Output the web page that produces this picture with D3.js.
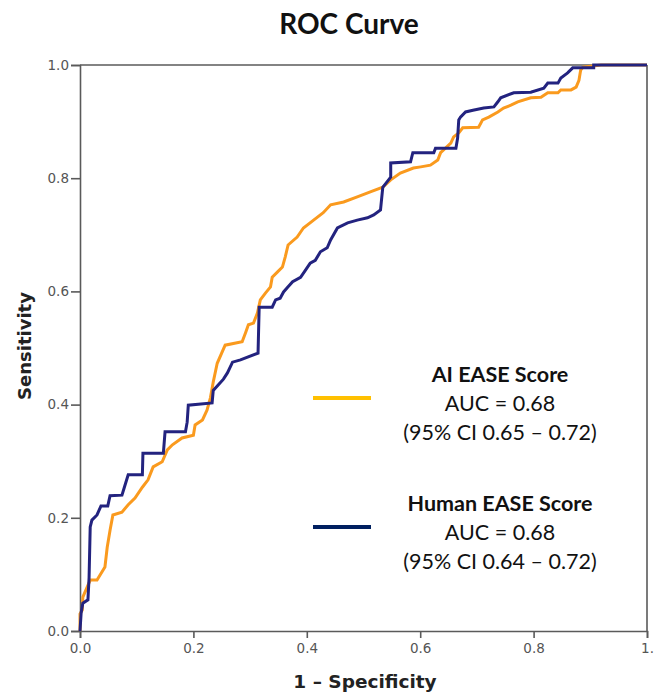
<!DOCTYPE html>
<html><head><meta charset="utf-8">
<script src="https://cdn.jsdelivr.net/npm/d3@7"></script>
<style>body{margin:0;background:#fff}svg{display:block}</style>
</head><body>
<script>
// ---- data ----
const xTicks = [0, 0.2, 0.4, 0.6, 0.8, 1.0];
const xTickLabels = ["0.0", "0.2", "0.4", "0.6", "0.8", "1."];
const yTicks = [0, 0.2, 0.4, 0.6, 0.8, 1.0];
const yTickLabels = ["0.0", "0.2", "0.4", "0.6", "0.8", "1.0"];

// AI EASE Score ROC: [1-specificity, sensitivity]
const aiFpr  = [0,0,0.004,0.005,0.018,0.030,0.044,0.048,0.053,0.058,0.074,0.085,0.097,0.110,0.120,0.129,0.145,0.154,0.163,0.180,0.200,0.203,0.216,0.224,0.230,0.235,0.242,0.256,0.286,0.292,0.297,0.306,0.313,0.318,0.327,0.336,0.339,0.348,0.357,0.362,0.367,0.383,0.394,0.412,0.429,0.442,0.465,0.489,0.512,0.534,0.548,0.565,0.588,0.601,0.618,0.631,0.636,0.654,0.659,0.668,0.675,0.703,0.710,0.721,0.737,0.747,0.760,0.772,0.795,0.813,0.825,0.843,0.848,0.866,0.875,0.880,0.883,0.887,0.919,1.0];
const aiTpr  = [0,0.030,0.037,0.060,0.090,0.090,0.113,0.148,0.178,0.205,0.210,0.223,0.235,0.254,0.267,0.290,0.299,0.320,0.329,0.341,0.346,0.364,0.373,0.390,0.412,0.440,0.473,0.505,0.511,0.527,0.541,0.544,0.562,0.585,0.597,0.608,0.625,0.634,0.643,0.661,0.682,0.696,0.712,0.726,0.739,0.753,0.758,0.767,0.776,0.784,0.797,0.809,0.818,0.820,0.823,0.832,0.845,0.862,0.873,0.880,0.889,0.890,0.903,0.908,0.917,0.924,0.929,0.935,0.942,0.943,0.951,0.951,0.956,0.956,0.961,0.973,0.991,0.996,1.0,1.0];

// Human EASE Score ROC
const humanFpr = [0,0.002,0.005,0.014,0.016,0.018,0.021,0.030,0.037,0.049,0.053,0.074,0.078,0.085,0.110,0.111,0.147,0.150,0.186,0.189,0.191,0.233,0.235,0.253,0.260,0.269,0.283,0.314,0.316,0.339,0.345,0.353,0.359,0.367,0.375,0.389,0.398,0.406,0.415,0.424,0.436,0.442,0.454,0.472,0.489,0.507,0.518,0.530,0.534,0.548,0.548,0.583,0.587,0.624,0.627,0.663,0.666,0.668,0.671,0.680,0.693,0.712,0.730,0.737,0.742,0.765,0.795,0.818,0.825,0.843,0.848,0.860,0.869,0.906,0.906,1.0];
const humanTpr = [0,0.032,0.049,0.055,0.094,0.184,0.196,0.205,0.221,0.221,0.239,0.240,0.253,0.276,0.276,0.314,0.314,0.352,0.352,0.369,0.399,0.403,0.425,0.445,0.456,0.475,0.479,0.491,0.572,0.572,0.585,0.588,0.599,0.608,0.617,0.625,0.638,0.650,0.655,0.670,0.677,0.691,0.712,0.721,0.726,0.730,0.735,0.744,0.784,0.802,0.827,0.829,0.845,0.845,0.853,0.853,0.871,0.903,0.908,0.917,0.920,0.924,0.926,0.935,0.942,0.951,0.952,0.959,0.968,0.968,0.977,0.986,0.995,0.995,1.0,1.0];

const seriesNames = ["AI EASE Score", "Human EASE Score"];
const aucLabels = ["AUC = 0.68", "AUC = 0.68"];
const ciLabels = ["(95% CI 0.65 \u2013 0.72)", "(95% CI 0.64 \u2013 0.72)"];

// ---- drawing ----
const W = 657, H = 695;
const m = {left: 80, right: 10, top: 65, bottom: 64};
const svg = d3.select("body").append("svg").attr("width", W).attr("height", H);

const x = d3.scaleLinear().domain([0, 1]).range([m.left, W - m.right]);
const y = d3.scaleLinear().domain([0, 1]).range([H - m.bottom, m.top]);

const axisColor = "#5a5a5a";

// frame (top/right)
svg.append("line").attr("x1", x(0)).attr("x2", x(1)).attr("y1", y(1)).attr("y2", y(1))
  .attr("stroke", axisColor).attr("stroke-width", 1.6);
svg.append("line").attr("x1", x(1)).attr("x2", x(1)).attr("y1", y(1)).attr("y2", y(0))
  .attr("stroke", axisColor).attr("stroke-width", 1.6);

const xAxis = d3.axisBottom(x).tickValues(xTicks).tickSize(7).tickPadding(5)
  .tickFormat((d, i) => xTickLabels[i]);
const yAxis = d3.axisLeft(y).tickValues(yTicks).tickSize(9).tickPadding(2)
  .tickFormat((d, i) => yTickLabels[i]);

const gx = svg.append("g").attr("transform", `translate(0,${y(0)})`).call(xAxis);
const gy = svg.append("g").attr("transform", `translate(${x(0)},0)`).call(yAxis);
[gx, gy].forEach(g => {
  g.select(".domain").attr("stroke", axisColor).attr("stroke-width", 1.6);
  g.selectAll(".tick line").attr("stroke", axisColor).attr("stroke-width", 1.6);
  g.selectAll(".tick text").attr("fill", "#555").attr("font-family", "DejaVu Sans")
    .attr("font-size", 13.5);
});

const line = d3.line().x(d => x(d[0])).y(d => y(d[1]));
const aiData = aiFpr.map((v, i) => [v, aiTpr[i]]);
const humanData = humanFpr.map((v, i) => [v, humanTpr[i]]);

svg.append("path").datum(aiData).attr("d", line).attr("fill", "none")
  .attr("stroke", "#FA9A1E").attr("stroke-width", 3).attr("stroke-linejoin", "miter");
svg.append("path").datum(humanData).attr("d", line).attr("fill", "none")
  .attr("stroke", "#23237F").attr("stroke-width", 3).attr("stroke-linejoin", "miter");

// title
svg.append("text").attr("x", 349).attr("y", 34).attr("text-anchor", "middle")
  .attr("font-family", "Lato").attr("font-weight", "bold").attr("font-size", 28)
  .attr("fill", "#111").text("ROC Curve");

// axis titles
svg.append("text").attr("x", 365).attr("y", 688).attr("text-anchor", "middle")
  .attr("font-family", "DejaVu Sans").attr("font-weight", "bold").attr("font-size", 18.5)
  .attr("fill", "#222").text("1 \u2013 Specificity");
svg.append("text").attr("transform", `translate(31,${(y(0)+y(1))/2 - 2}) rotate(-90)`)
  .attr("text-anchor", "middle")
  .attr("font-family", "DejaVu Sans").attr("font-weight", "bold").attr("font-size", 18)
  .attr("fill", "#222").text("Sensitivity");

// legend
const legColors = ["#FFC000", "#002060"];
const legTop = [382, 511];
seriesNames.forEach((name, i) => {
  const by = legTop[i];
  svg.append("line").attr("x1", 313).attr("x2", 371).attr("y1", by + 16).attr("y2", by + 16)
    .attr("stroke", legColors[i]).attr("stroke-width", 4);
  const t = svg.append("g").attr("font-family", "Lato").attr("font-size", 21.5)
    .attr("fill", "#111").attr("text-anchor", "middle");
  t.append("text").attr("x", 500).attr("y", by).attr("font-weight", "bold").text(name);
  t.append("text").attr("x", 500).attr("y", by + 29).text(aucLabels[i]);
  t.append("text").attr("x", 500).attr("y", by + 58).text(ciLabels[i]);
});
</script>
</body></html>
